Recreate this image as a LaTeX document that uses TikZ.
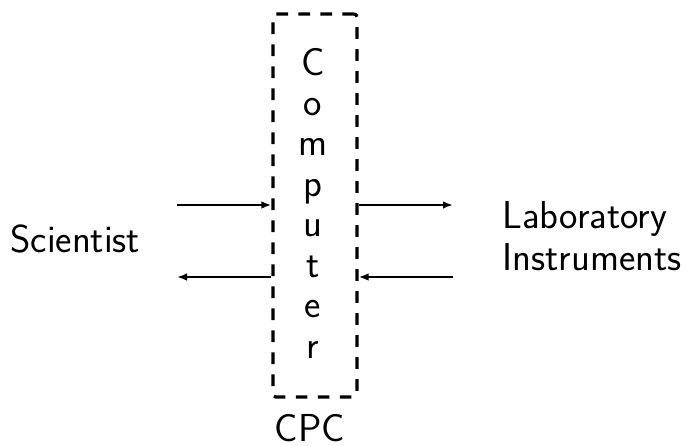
\documentclass[tikz,border=0pt]{standalone}
\usetikzlibrary{arrows.meta}
\begin{document}
\begin{tikzpicture}[x=0.5pt,y=-0.5pt,
  lbl/.style={font=\sffamily\fontsize{19.5}{23}\selectfont, inner sep=0pt, anchor=base},
  letter/.style={lbl, anchor=base},
  boxdash/.style={line width=1.6pt, dash pattern=on 5.8pt off 5.2pt, rounded corners=1.5pt},
  conn/.style={line width=1.2pt, -{Latex[length=5pt,width=3.8pt]}}]
\useasboundingbox (0,0) rectangle (686,445);
% box
\node[boxdash, draw, minimum width=42pt, minimum height=191.5pt, inner sep=0pt] (cpu) at (315,205.5) {};
% letters
\foreach \ch [count=\i from 0] in {C,o,m,p,u,t,e,r}
  \node[letter] (l\i) at (313,75+40.43*\i) {\ch};
% labels
\node[lbl, anchor=base west] (sci) at (10,252) {Scientist};
\node[lbl, anchor=base west] (lab1) at (502,228) {Laboratory};
\node[lbl, anchor=base west] (lab2) at (502,270) {Instruments};
\node[lbl] (cpc) at (310,441) {CPC};
% arrow end coordinates
\coordinate (sa) at (177,205);
\coordinate (sb) at (177,277);
\coordinate (la) at (453,205);
\coordinate (lb) at (453,277);
\draw[conn] (sa) -- (sa -| cpu.west);
\draw[conn] (sb -| cpu.west) -- (sb);
\draw[conn] (la -| cpu.east) -- (la);
\draw[conn] (lb) -- (lb -| cpu.east);
\end{tikzpicture}
\end{document}
